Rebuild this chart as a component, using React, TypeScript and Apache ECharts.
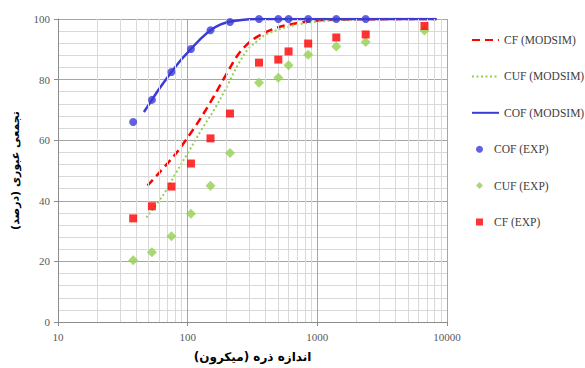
import React, { useEffect, useRef } from "react";
import * as echarts from "echarts";

// Experimental sieve sizes (micron)
const sieveSizes = [38, 53, 75, 106, 150, 212, 355, 500, 600, 850, 1400, 2360, 6700];
const cofExp = [66, 73.3, 82.5, 90.1, 96.3, 99, 100, 100, 100, 100, 100, 100];
const cufExp = [20.4, 23.0, 28.3, 35.7, 45.0, 55.8, 79.0, 80.6, 84.7, 88.2, 90.9, 92.4, 96.2];
const cfExp = [34.2, 38.2, 44.7, 52.3, 60.6, 68.8, 85.6, 86.6, 89.3, 91.9, 93.9, 94.9, 97.7];

// Model curves (MODSIM)
const cofModX = [46, 53, 60, 75, 90, 106, 130, 150, 180, 212, 260, 350, 600, 1500, 8300];
const cofModY = [69.3, 73.3, 76.8, 82.5, 86.8, 90.1, 94, 96.3, 98.2, 99.1, 99.7, 100, 100, 100, 100];
const cfModX = [49, 80, 113, 153, 200, 245, 290, 340, 450, 615, 1000, 2000, 8300];
const cfModY = [45, 55.3, 64.2, 73.2, 82, 88.3, 91.8, 94, 96.6, 98.2, 99.5, 99.9, 100];
const cufModX = [48, 65, 82, 101, 128, 165, 205, 245, 292, 350, 405, 615, 990, 2000, 8300];
const cufModY = [34.5, 42, 49.5, 56, 63.5, 71, 78.5, 85, 90, 93, 95, 97.6, 99.1, 99.8, 100];

// Axis ticks
const decades = [10, 100, 1000];
const minorMultipliers = [2, 3, 4, 5, 6, 7, 8, 9];
const lineLegend = ["CF (MODSIM)", "CUF (MODSIM)", "COF (MODSIM)"];
const markerLegend = ["COF (EXP)", "CUF (EXP)", "CF (EXP)"];
const markerIcons = ["circle", "path://M0,5L5,0L10,5L5,10Z", "path://M0,0H10V10H0Z"];

const RED = "#FF0000";
const GREEN = "#92D050";
const BLUE = "#3B3BD6";
const SERIF = "Liberation Serif";

const zip = (xs: number[], ys: number[]) => ys.map((y, i) => [xs[i], y]);

export default function App() {
  const ref = useRef<HTMLDivElement>(null);
  useEffect(() => {
    document.body.style.margin = "0";
    if (!ref.current) return;
    const chart = echarts.init(ref.current, null, { renderer: "svg" });
    const minorX: number[] = [];
    decades.forEach((d) => minorMultipliers.forEach((m) => minorX.push(d * m)));
    const labelFont = { fontFamily: SERIF, fontSize: 11, color: "#595959" };
    const legendText = { fontFamily: SERIF, fontSize: 11.5, color: "#404040" };
    chart.setOption({
      animation: false,
      backgroundColor: "#ffffff",
      textStyle: { fontFamily: SERIF },
      grid: { left: 58, top: 19, width: 389, height: 307, containLabel: false },
      legend: [
        {
          orient: "vertical",
          left: 471,
          top: 34,
          padding: 0,
          itemWidth: 27,
          itemHeight: 7,
          itemGap: 24.4,
          data: lineLegend.map((n) => ({ name: n, itemStyle: { opacity: 0 } })),
          textStyle: legendText,
        },
        {
          orient: "vertical",
          left: 476,
          top: 143.2,
          padding: 0,
          itemWidth: 19,
          itemHeight: 7,
          itemGap: 24.4,
          data: markerLegend.map((n, i) => ({ name: n, icon: markerIcons[i] })),
          textStyle: legendText,
        },
      ],
      xAxis: {
        type: "log",
        logBase: 10,
        min: 10,
        max: 10000,
        axisLine: { show: true, lineStyle: { color: "#8C8C8C" } },
        axisTick: { show: true, length: 4, lineStyle: { color: "#8C8C8C" } },
        axisLabel: {
          ...labelFont,
          margin: 9,
          formatter: (v: number) => String(Math.round(v)),
        },
        splitLine: { show: true, lineStyle: { color: "#A6A6A6" } },
        name: "اندازه ذره (میکرون)",
        nameLocation: "middle",
        nameGap: 29,
        nameTextStyle: { fontFamily: "DejaVu Sans", fontWeight: "bold", fontSize: 12, color: "#000000" },
      },
      yAxis: {
        type: "value",
        min: 0,
        max: 100,
        interval: 20,
        axisLine: { show: true, lineStyle: { color: "#8C8C8C" } },
        axisTick: { show: true, length: 4, lineStyle: { color: "#8C8C8C" } },
        axisLabel: { ...labelFont, margin: 8 },
        splitLine: { show: true, lineStyle: { color: "#A6A6A6" } },
        minorTick: { show: false, splitNumber: 5 },
        minorSplitLine: { show: true, lineStyle: { color: "#D9D9D9" } },
        name: "تجمعی عبوری (درصد)",
        nameLocation: "middle",
        nameGap: 37,
        nameTextStyle: { fontFamily: "DejaVu Sans", fontWeight: "bold", fontSize: 11, color: "#000000" },
      },
      series: [
        {
          name: "grid-minor",
          type: "line",
          data: [],
          z: 1,
          silent: true,
          markLine: {
            silent: true,
            symbol: ["none", "none"],
            label: { show: false },
            lineStyle: { color: "#D9D9D9", type: "solid", width: 1 },
            data: minorX.map((v) => ({ xAxis: v })),
          },
        },
        {
          name: "CF (MODSIM)",
          type: "line",
          data: zip(cfModX, cfModY),
          smooth: 0.35,
          symbol: "none",
          z: 3,
          itemStyle: { color: RED },
          lineStyle: { color: RED, width: 2.5, type: [8, 5] },
        },
        {
          name: "CUF (MODSIM)",
          type: "line",
          data: zip(cufModX, cufModY),
          smooth: 0.35,
          symbol: "none",
          z: 3,
          itemStyle: { color: GREEN },
          lineStyle: { color: GREEN, width: 2, type: [2, 2.5] },
        },
        {
          name: "COF (MODSIM)",
          type: "line",
          data: zip(cofModX, cofModY),
          smooth: 0.35,
          symbol: "none",
          z: 4,
          itemStyle: { color: BLUE },
          lineStyle: { color: BLUE, width: 2.5 },
        },
        {
          name: "COF (EXP)",
          type: "scatter",
          data: zip(sieveSizes, cofExp),
          symbol: "circle",
          symbolSize: 8,
          z: 5,
          itemStyle: { color: BLUE },
        },
        {
          name: "CUF (EXP)",
          type: "scatter",
          data: zip(sieveSizes, cufExp),
          symbol: "diamond",
          symbolSize: 10,
          z: 5,
          itemStyle: { color: GREEN },
        },
        {
          name: "CF (EXP)",
          type: "scatter",
          data: zip(sieveSizes, cfExp),
          symbol: "rect",
          symbolSize: 8,
          z: 5,
          itemStyle: { color: RED },
        },
      ],
    });
    return () => chart.dispose();
  }, []);
  return <div ref={ref} style={{ width: 585, height: 368 }} />;
}
